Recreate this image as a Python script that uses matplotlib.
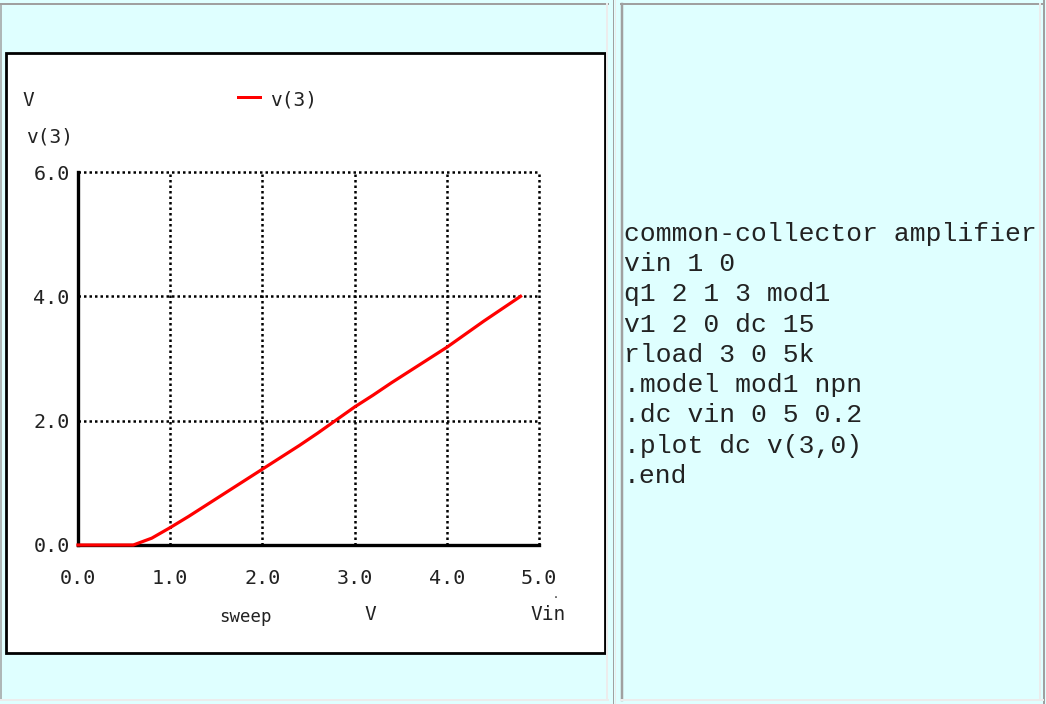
import matplotlib
matplotlib.use("Agg")
import matplotlib.pyplot as plt
from matplotlib.patches import Rectangle
from matplotlib.lines import Line2D

# DATA - dc sweep of vin, output v(3)
vin = [0.0, 0.2, 0.4, 0.6, 0.8, 1.0, 1.2, 1.4, 1.6, 1.8, 2.0, 2.2, 2.4,
       2.6, 2.8, 3.0, 3.2, 3.4, 3.6, 3.8, 4.0, 4.2, 4.4, 4.6, 4.8]
v3 = [0.0, 0.0, 0.0, 0.0, 0.11, 0.28, 0.46, 0.65, 0.84, 1.03, 1.22, 1.41, 1.60,
      1.80, 2.01, 2.22, 2.41, 2.61, 2.80, 2.99, 3.18, 3.39, 3.60, 3.80, 4.00]
xticks = [0, 1, 2, 3, 4, 5]
xticklabels = ["0.0", "1.0", "2.0", "3.0", "4.0", "5.0"]
yticks = [0, 2, 4, 6]
yticklabels = ["0.0", "2.0", "4.0", "6.0"]
netlist = ["common-collector amplifier", "vin 1 0", "q1 2 1 3 mod1",
           "v1 2 0 dc 15", "rload 3 0 5k", ".model mod1 npn",
           ".dc vin 0 5 0.2", ".plot dc v(3,0)", ".end"]

W, H = 1046, 704
BG = "#dfffff"
GRAY = "#a0a0a0"
LIGHT = "#ececec"
TXT = "#222222"

fig = plt.figure(figsize=(W / 100, H / 100), dpi=100)
fig.patch.set_facecolor(BG)


# helpers working in pixel coords (origin top-left)
def fx(x):
    return x / W


def fy(y):
    return 1 - y / H


def hline(x0, x1, y, color, lw=2):
    fig.add_artist(Line2D([fx(x0), fx(x1)], [fy(y), fy(y)], color=color,
                          lw=lw * 0.72, transform=fig.transFigure))


def vline(x, y0, y1, color, lw=2):
    fig.add_artist(Line2D([fx(x), fx(x)], [fy(y0), fy(y1)], color=color,
                          lw=lw * 0.72, transform=fig.transFigure))


def ftext(x, y, s, **kw):
    fig.text(fx(x), fy(y), s, transform=fig.transFigure, zorder=10, **kw)


# table borders
hline(0, 608, 4, GRAY, 2)
vline(1, 4, 700, GRAY, 1.5)
vline(607, 4, 700, LIGHT, 2)
hline(0, 608, 700, LIGHT, 2)
vline(613, 0, 704, GRAY, 1)
vline(615, 0, 704, LIGHT, 1)
hline(621, 1043, 4, GRAY, 2)
vline(622, 4, 700, GRAY, 2.5)
vline(1040, 4, 700, LIGHT, 2)
vline(1044, 0, 704, GRAY, 2)
hline(621, 1043, 700, LIGHT, 2)

# white plot box with black frame (kept behind the axes)
fig.add_artist(Rectangle((fx(6), fy(653)), fx(605) - fx(6), fy(53) - fy(653),
                         transform=fig.transFigure, facecolor="white",
                         edgecolor="black", lw=2, zorder=-1))

# axes area
x0p, x1p, y0p, y1p = 78, 539, 545, 172
ax = fig.add_axes([fx(x0p), fy(y0p), fx(x1p) - fx(x0p), fy(y1p) - fy(y0p)])
ax.set_zorder(5)
ax.set_facecolor("white")
ax.set_xlim(0, 5)
ax.set_ylim(0, 6)

for s in ["top", "right"]:
    ax.spines[s].set_visible(False)
for s in ["left", "bottom"]:
    ax.spines[s].set_linewidth(2.4)
    ax.spines[s].set_color("black")
    ax.spines[s].set_zorder(3)

# dotted grid incl. the limits
dots = (0, (1, 1.2))
for xv in xticks[1:]:
    ax.axvline(xv, color="black", lw=1.8, ls=dots, clip_on=False, zorder=2)
for yv in yticks[1:]:
    ax.axhline(yv, color="black", lw=1.8, ls=dots, clip_on=False, zorder=2)

ax.plot(vin, v3, color="red", lw=2.3, clip_on=False, zorder=5)

font = "DejaVu Sans Mono"
ax.set_xticks(xticks)
ax.set_xticklabels(xticklabels, family=font, fontsize=14.5, color=TXT)
ax.set_yticks(yticks)
ax.set_yticklabels(yticklabels, family=font, fontsize=14.5, color=TXT)
ax.tick_params(axis="both", length=0)
ax.tick_params(axis="x", pad=17)
ax.tick_params(axis="y", pad=6)

# labels around the plot
ftext(22, 100, "V", family=font, fontsize=14, va="center", ha="left", color=TXT)
ftext(26, 137, "v(3)", family=font, fontsize=14, va="center", ha="left", color=TXT)
hline(238, 260, 97, "red", 3)
ftext(270, 100, "v(3)", family=font, fontsize=14, va="center", ha="left", color=TXT)
ftext(245, 617, "sweep", family=font, fontsize=12.5, va="center", ha="center", color=TXT)
ftext(370, 614, "V", family=font, fontsize=14, va="center", ha="center", color=TXT)
ftext(548, 614, "Vin", family=font, fontsize=14, va="center", ha="center", color=TXT)
ftext(556, 595, ".", family=font, fontsize=7, va="center", ha="center", color=TXT)

# netlist text on the right
for i, line in enumerate(netlist):
    ftext(624, 234 + i * 30.25, line, family="Liberation Mono", fontsize=19,
          va="center", ha="left", color=TXT)

fig.savefig("out.png", dpi=100, facecolor=BG)
